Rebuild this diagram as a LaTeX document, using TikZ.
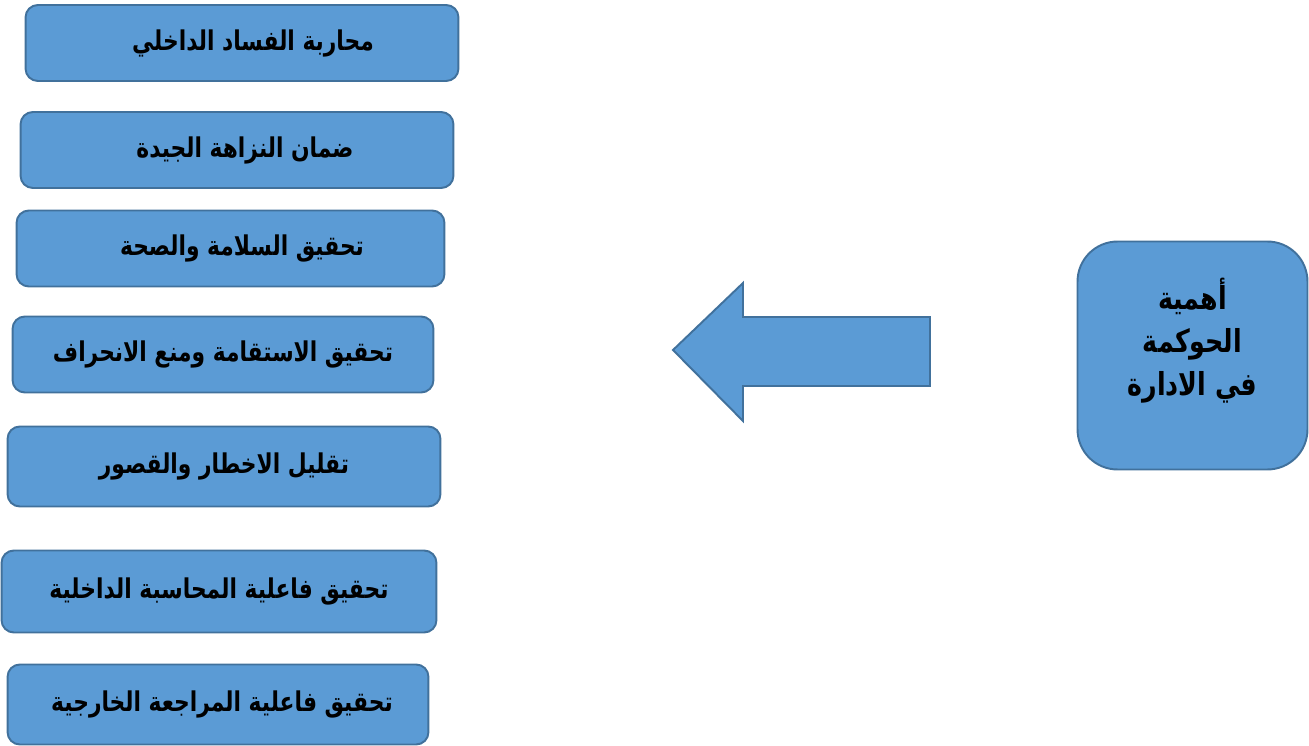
\documentclass[tikz,border=0pt]{standalone}
\usepackage{fontspec}
\newfontfamily\arabicfont[Script=Arabic,FakeStretch=0.8]{DejaVu Sans}
\TeXXeTstate=1
\usetikzlibrary{positioning}
\definecolor{boxfill}{RGB}{91,155,213}
\definecolor{boxline}{RGB}{65,113,156}
\tikzset{
  itembox/.style={
    draw=boxline, fill=boxfill, line width=1.1pt, rounded corners=7pt,
    minimum height=1.52cm, inner sep=0pt,
    font=\arabicfont\bfseries\fontsize{15.5}{18}\selectfont
  },
  headbox/.style={
    draw=boxline, fill=boxfill, line width=1.1pt, rounded corners=0.8cm,
    minimum width=4.6cm, minimum height=4.56cm, inner sep=0pt,
    font=\arabicfont\bfseries\fontsize{18}{24.4}\selectfont
  },
  bigarrow/.style={
    draw=boxline, fill=boxfill, line width=1.1pt
  }
}

\begin{document}
\begin{tikzpicture}[x=0.02cm, y=-0.02cm]

\useasboundingbox (0,0) rectangle (1309,746);

% ── Items on the left ─────────────────────────────────────────────────────────
\node[itembox, minimum width=8.66cm] (b1) at (242,43)    {\hspace{0.44cm}\beginR محاربة الفساد الداخلي\endR};
\node[itembox, minimum width=8.66cm] (b2) at (237,150)   {\hspace{0.32cm}\beginR ضمان النزاهة الجيدة\endR};
\node[itembox, minimum width=8.56cm] (b3) at (230.5,248.5) {\hspace{0.46cm}\beginR تحقيق السلامة والصحة\endR};
\node[itembox, minimum width=8.42cm] (b4) at (223,354.5) {\beginR تحقيق الاستقامة ومنع الانحراف\endR\hspace{0.5cm}};
\node[itembox, minimum width=8.66cm, minimum height=1.6cm] (b5) at (224,466.5) {\beginR تقليل الاخطار والقصور\endR};
\node[itembox, minimum width=8.70cm, minimum height=1.64cm] (b6) at (219,591.5) {\beginR تحقيق فاعلية المحاسبة الداخلية\endR\hspace{0.36cm}};
\node[itembox, minimum width=8.42cm, minimum height=1.6cm] (b7) at (218,704.5) {\hspace{0.16cm}\beginR تحقيق فاعلية المراجعة الخارجية\endR};

% ── Main box on the right ─────────────────────────────────────────────────────
\node[headbox] (gov) at (1192.5,355.5) {\raisebox{0.24cm}[\height][\depth]{\begin{tabular}{@{}c@{}}
  \beginR أهمية\endR\\
  \beginR الحوكمة\endR\\
  \beginR في الادارة\endR
\end{tabular}}};

% ── Block arrow ───────────────────────────────────────────────────────────────
\draw[bigarrow] (930,317) -- (743,317) -- (743,283) -- (673,350)
  -- (743,421) -- (743,386) -- (930,386) -- cycle;

\end{tikzpicture}
\end{document}
